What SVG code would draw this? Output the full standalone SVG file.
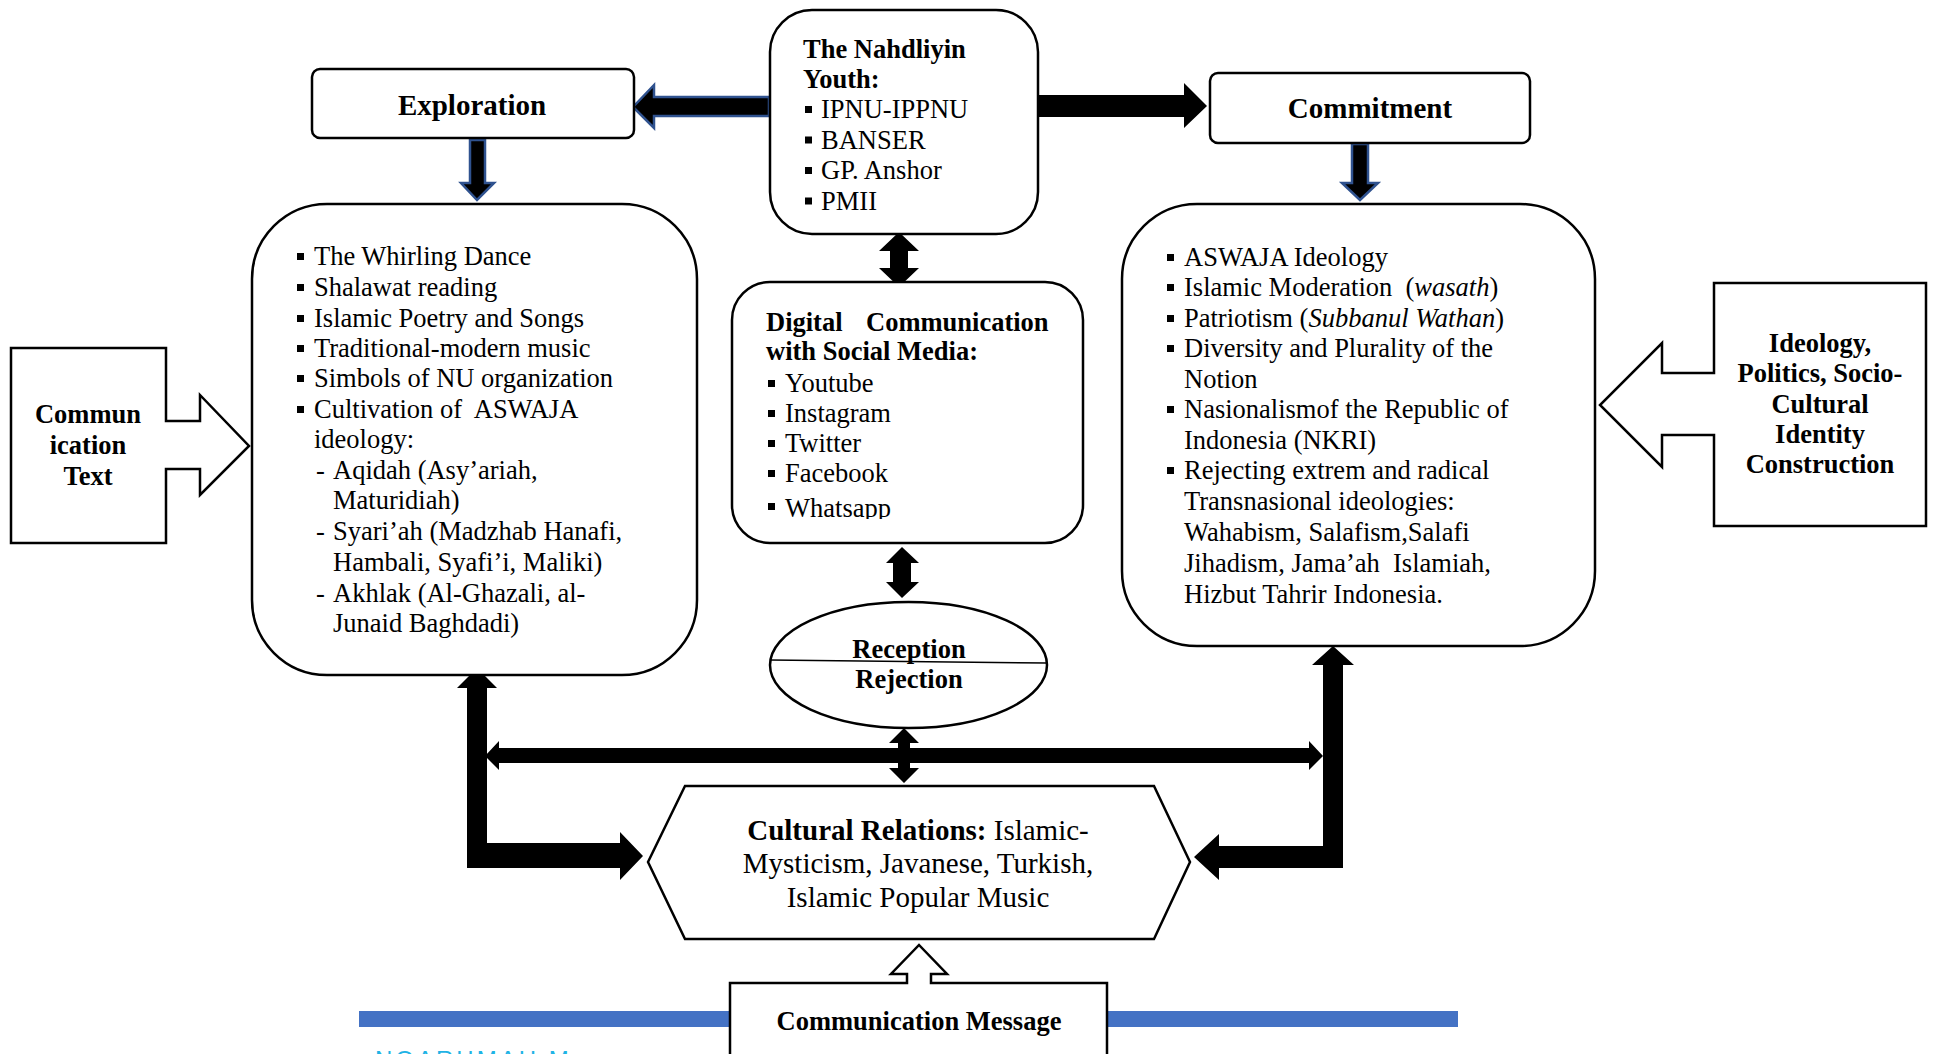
<svg xmlns="http://www.w3.org/2000/svg" width="1933" height="1054" viewBox="0 0 1933 1054">
<style>
.t{font-family:"Liberation Serif","Times New Roman",serif;font-size:26.5px;fill:#000;white-space:pre}
.b{font-weight:bold}
.c{text-anchor:middle}
.box{fill:#fff;stroke:#000;stroke-width:2.5}
.arr{fill:#000;stroke:none}
.barr{fill:#000;stroke:#2F528F;stroke-width:2.5;stroke-linejoin:miter}
.bul{fill:#000}
</style>
<defs>
<rect id="bl" width="7" height="7" class="bul"/>
<clipPath id="dclip"><rect x="732" y="282" width="351" height="237"/></clipPath>
</defs>
<rect width="1933" height="1054" fill="#fff"/>

<!-- blue bar -->
<rect x="359" y="1011" width="1099" height="16" fill="#4472C4"/>
<text x="375" y="1068" style="font-family:'Liberation Sans',Arial,sans-serif;font-size:24px;letter-spacing:3px;fill:#1FB3E5">NOARHMAH M</text>

<g id="connectors">
  <polygon class="barr" points="633,107 654,85 654,97 769,97 769,116 654,116 654,128"/>
  <polygon class="arr" points="1037,95 1184,95 1184,83 1207,106 1184,128 1184,117 1037,117"/>
  <polygon class="barr" points="470,140 485,140 485,183 494,183 477,200 461,183 470,183"/>
  <polygon class="barr" points="1352,144 1368,144 1368,183 1378,183 1360,200 1342,183 1352,183"/>
  <polygon class="arr" points="899,232 919,251 908,251 908,268 919,268 899,287 879,268 890,268 890,251 879,251"/>
  <polygon class="arr" points="902,547 919,563 911,563 911,582 919,582 902,598 886,582 893,582 893,563 886,563"/>
  <polygon class="arr" points="485,756 499,741 499,748 1309,748 1309,741 1323,756 1309,770 1309,763 499,763 499,770"/>
  <polygon class="arr" points="904,728 919,743 910,743 910,768 919,768 904,783 889,768 898,768 898,743 889,743"/>
  <polygon class="arr" points="477,668 497,688 487,688 487,843 620,843 620,832 643,856 620,880 620,868 467,868 467,688 457,688"/>
  <polygon class="arr" points="1333,646 1354,665 1343,665 1343,868 1219,868 1219,880 1194,857 1219,834 1219,846 1323,846 1323,665 1312,665"/>
</g>

<g id="nahdliyin">
  <rect class="box" x="770" y="10" width="268" height="224" rx="42"/>
  <text class="t b" x="803" y="58">The Nahdliyin</text>
  <text class="t b" x="803" y="88">Youth:</text>
  <use href="#bl" x="805" y="106"/><text class="t" x="821" y="118">IPNU-IPPNU</text>
  <use href="#bl" x="805" y="136.5"/><text class="t" x="821" y="148.5">BANSER</text>
  <use href="#bl" x="805" y="167"/><text class="t" x="821" y="179">GP. Anshor</text>
  <use href="#bl" x="805" y="197.5"/><text class="t" x="821" y="209.5">PMII</text>
</g>

<g id="exploration">
  <rect class="box" x="312" y="69" width="322" height="69" rx="8"/>
  <text class="t b c" x="472" y="115" style="font-size:29px">Exploration</text>
</g>

<g id="commitment">
  <rect class="box" x="1210" y="73" width="320" height="70" rx="8"/>
  <text class="t b c" x="1370" y="118" style="font-size:29px">Commitment</text>
</g>

<g id="cultural-content">
  <rect class="box" x="252" y="204" width="445" height="471" rx="75"/>
  <use href="#bl" x="297" y="253"/><text class="t" x="314" y="265">The Whirling Dance</text>
  <use href="#bl" x="297" y="284"/><text class="t" x="314" y="296">Shalawat reading</text>
  <use href="#bl" x="297" y="315"/><text class="t" x="314" y="327">Islamic Poetry and Songs</text>
  <use href="#bl" x="297" y="345"/><text class="t" x="314" y="357">Traditional-modern music</text>
  <use href="#bl" x="297" y="375"/><text class="t" x="314" y="387">Simbols of NU organization</text>
  <use href="#bl" x="297" y="406"/><text class="t" x="314" y="418">Cultivation of  ASWAJA</text>
  <text class="t" x="314" y="448">ideology:</text>
  <text class="t" x="316" y="479">-</text><text class="t" x="333" y="479">Aqidah (Asy’ariah,</text>
  <text class="t" x="333" y="509">Maturidiah)</text>
  <text class="t" x="316" y="540">-</text><text class="t" x="333" y="540">Syari’ah (Madzhab Hanafi,</text>
  <text class="t" x="333" y="571">Hambali, Syafi’i, Maliki)</text>
  <text class="t" x="316" y="602">-</text><text class="t" x="333" y="602">Akhlak (Al-Ghazali, al-</text>
  <text class="t" x="333" y="632">Junaid Baghdadi)</text>
</g>

<g id="digital">
  <rect class="box" x="732" y="282" width="351" height="261" rx="38"/>
  <text class="t b"><tspan x="766" y="331">Digital</tspan><tspan x="866" y="331">Communication</tspan></text>
  <text class="t b" x="766" y="360">with Social Media:</text>
  <use href="#bl" x="768" y="380"/><text class="t" x="785" y="392">Youtube</text>
  <use href="#bl" x="768" y="410"/><text class="t" x="785" y="422">Instagram</text>
  <use href="#bl" x="768" y="440"/><text class="t" x="785" y="452">Twitter</text>
  <use href="#bl" x="768" y="470"/><text class="t" x="785" y="482">Facebook</text>
  <use href="#bl" x="768" y="503"/><text class="t" x="785" y="517" clip-path="url(#dclip)">Whatsapp</text>
</g>

<g id="identity-content">
  <rect class="box" x="1122" y="204" width="473" height="442" rx="75"/>
  <use href="#bl" x="1167" y="254"/><text class="t" x="1184" y="266">ASWAJA Ideology</text>
  <use href="#bl" x="1167" y="284"/><text class="t" x="1184" y="296">Islamic Moderation  (<tspan font-style="italic">wasath</tspan>)</text>
  <use href="#bl" x="1167" y="315"/><text class="t" x="1184" y="327">Patriotism (<tspan font-style="italic">Subbanul Wathan</tspan>)</text>
  <use href="#bl" x="1167" y="345"/><text class="t" x="1184" y="357">Diversity and Plurality of the</text>
  <text class="t" x="1184" y="388">Notion</text>
  <use href="#bl" x="1167" y="406"/><text class="t" x="1184" y="418">Nasionalismof the Republic of</text>
  <text class="t" x="1184" y="449">Indonesia (NKRI)</text>
  <use href="#bl" x="1167" y="467"/><text class="t" x="1184" y="479">Rejecting extrem and radical</text>
  <text class="t" x="1184" y="510">Transnasional ideologies:</text>
  <text class="t" x="1184" y="541">Wahabism, Salafism,Salafi</text>
  <text class="t" x="1184" y="572">Jihadism, Jama’ah  Islamiah,</text>
  <text class="t" x="1184" y="603">Hizbut Tahrir Indonesia.</text>
</g>

<g id="communication-text">
  <path class="box" d="M11,348 H166 V421 H200 V395 L249,446 L200,495 V469 H166 V543 H11 Z"/>
  <text class="t b c" x="88" y="423">Commun</text>
  <text class="t b c" x="88" y="454">ication</text>
  <text class="t b c" x="88" y="485">Text</text>
</g>

<g id="ideology">
  <path class="box" d="M1714,283 H1926 V526 H1714 V435 H1662 V467 L1600,405 L1662,343 V373 H1714 Z"/>
  <text class="t b c" x="1820" y="352">Ideology,</text>
  <text class="t b c" x="1820" y="382">Politics, Socio-</text>
  <text class="t b c" x="1820" y="413">Cultural</text>
  <text class="t b c" x="1820" y="443">Identity</text>
  <text class="t b c" x="1820" y="473">Construction</text>
</g>

<g id="reception">
  <ellipse class="box" cx="908.5" cy="665" rx="138.5" ry="63"/>
  <line x1="770" y1="660" x2="1047" y2="663" stroke="#000" stroke-width="1.5"/>
  <text class="t b c" x="909" y="658">Reception</text>
  <text class="t b c" x="909" y="688">Rejection</text>
</g>

<g id="cultural-relations">
  <polygon class="box" points="648,862 685,786 1154,786 1190,862 1154,939 685,939"/>
  <text class="t c" x="918" y="840" style="font-size:29px"><tspan class="b">Cultural Relations:</tspan> Islamic-</text>
  <text class="t c" x="918" y="873" style="font-size:29px">Mysticism, Javanese, Turkish,</text>
  <text class="t c" x="918" y="907" style="font-size:29px">Islamic Popular Music</text>
</g>

<g id="communication-message">
  <path class="box" d="M730,1060 V983 H907 V974 H891 L919,945 L947,974 H931 V983 H1107 V1060"/>
  <text class="t b c" x="919" y="1030">Communication Message</text>
</g>
</svg>
